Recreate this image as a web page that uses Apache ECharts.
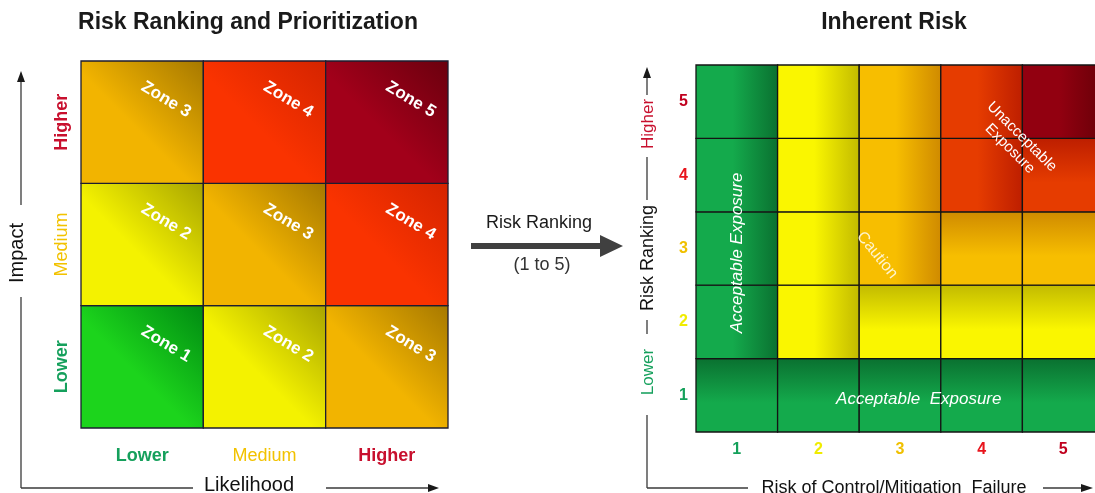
<!DOCTYPE html>
<html>
<head>
<meta charset="utf-8">
<style>
html, body { margin: 0; padding: 0; background: #fff; }
#chart { width: 1095px; height: 493px; }
</style>
<script src="https://cdn.jsdelivr.net/npm/echarts@6/dist/echarts.min.js"></script>
</head>
<body>
<div id="chart"></div>
<script>
// ---- Left matrix: likelihood (x) against impact (y) ----
const levelLabels = ['Lower', 'Medium', 'Higher'];
// [likelihood index, impact index, zone]
const zoneCells = [
  [0, 0, 1], [1, 0, 2], [2, 0, 3],
  [0, 1, 2], [1, 1, 3], [2, 1, 4],
  [0, 2, 3], [1, 2, 4], [2, 2, 5]
];

// ---- Right matrix: control/mitigation failure (x) against risk ranking (y) ----
const rankLabels = ['1', '2', '3', '4', '5'];
// exposure class per cell: A acceptable, L low caution, C caution, H high, U unacceptable
const exposureRows = [          // bottom row (rank 1) first
  ['A', 'A', 'A', 'A', 'A'],
  ['A', 'L', 'L', 'L', 'L'],
  ['A', 'L', 'C', 'C', 'C'],
  ['A', 'L', 'C', 'H', 'H'],
  ['A', 'L', 'C', 'H', 'U']
];
const exposureNotes = ['Acceptable Exposure', 'Acceptable  Exposure', 'Caution', 'Unacceptable\nExposure'];

const FONT = '"Liberation Sans", Arial, Helvetica, sans-serif';

const zoneShades = {
  1: ['#1cd41c', '#008a12'],
  2: ['#f4f200', '#a8a400'],
  3: ['#f2b400', '#a67800'],
  4: ['#fa3300', '#d42400'],
  5: ['#a2001a', '#6a000e']
};
const exposureShades = {
  A: ['#14aa4c', '#0a7030'],
  L: ['#faf600', '#c2ba00'],
  C: ['#f7be00', '#cf8a00'],
  H: ['#e63c00', '#bd1e00'],
  U: ['#920010', '#680008']
};

const exposureCells = [];
exposureRows.forEach(function (row, y) {
  row.forEach(function (cls, x) { exposureCells.push([x, y, cls]); });
});

function grad(x, y, x2, y2, light, dark, mid) {
  return {
    type: 'linear', x: x, y: y, x2: x2, y2: y2, global: false,
    colorStops: [
      { offset: 0, color: light },
      { offset: mid, color: light },
      { offset: 1, color: dark }
    ]
  };
}

const textShadow = { shadowColor: 'rgba(0,0,0,0.35)', shadowBlur: 2, shadowOffsetX: 1, shadowOffsetY: 1 };

function richFor(colors, weights, size) {
  const r = {};
  colors.forEach(function (c, i) {
    r['c' + i] = { color: c, fontWeight: weights[i], fontSize: size, fontFamily: FONT };
  });
  return r;
}
function idxFormatter(value, index) { return '{c' + index + '|' + value + '}'; }

const levelColors = ['#15a05c', '#f2c200', '#c8102e'];
const levelWeights = ['bold', 'normal', 'bold'];
const rankColors = ['#14a05a', '#f0ec00', '#f0c000', '#e8141c', '#c0001e'];
const rankWeights = ['bold', 'bold', 'bold', 'bold', 'bold'];

// placement of the free text on the right matrix, in cell units
const notePlacement = [
  { x: 0, y: 1.94, rot: 90, size: 17, italic: true },
  { x: 2.23, y: -0.06, rot: 0, size: 17, italic: true },
  { x: 1.72, y: 1.91, rot: -51, size: 16, italic: false },
  { x: 3.42, y: 3.44, rot: -45, size: 15, italic: false }
];

const axisInk = '#3a3a3a';
function seg(x1, y1, x2, y2) {
  return { type: 'line', shape: { x1: x1, y1: y1, x2: x2, y2: y2 }, style: { stroke: axisInk, lineWidth: 1.3 }, silent: true };
}
function tri(points) {
  return { type: 'polygon', shape: { points: points }, style: { fill: '#1a1a1a' }, silent: true };
}
function label(text, x, y, size, color, extra) {
  const el = {
    type: 'text', x: x, y: y, silent: true,
    style: { text: text, fill: color, fontSize: size, fontFamily: FONT, align: 'center', verticalAlign: 'middle' }
  };
  if (extra) {
    if (extra.rotation != null) el.rotation = extra.rotation;
    if (extra.fontWeight) el.style.fontWeight = extra.fontWeight;
    if (extra.rich) el.style.rich = extra.rich;
  }
  return el;
}

const chart = echarts.init(document.getElementById('chart'));

chart.setOption({
  animation: false,
  grid: [
    { left: 81, top: 61, width: 367, height: 367, containLabel: false, outerBoundsMode: 'none' },
    { left: 696, top: 65, width: 408, height: 367, containLabel: false, outerBoundsMode: 'none' }
  ],
  xAxis: [
    {
      gridIndex: 0, type: 'category', data: levelLabels,
      axisLine: { show: false }, axisTick: { show: false }, splitLine: { show: false },
      axisLabel: { margin: 19, formatter: idxFormatter, rich: richFor(levelColors, levelWeights, 18) }
    },
    {
      gridIndex: 1, type: 'category', data: rankLabels,
      axisLine: { show: false }, axisTick: { show: false }, splitLine: { show: false },
      axisLabel: { margin: 10, formatter: idxFormatter, rich: richFor(rankColors, rankWeights, 16) }
    }
  ],
  yAxis: [
    {
      gridIndex: 0, type: 'category', data: levelLabels,
      axisLine: { show: false }, axisTick: { show: false }, splitLine: { show: false },
      axisLabel: { rotate: 90, margin: 10, formatter: idxFormatter, rich: richFor(levelColors, levelWeights, 18) }
    },
    {
      gridIndex: 1, type: 'category', data: rankLabels,
      axisLine: { show: false }, axisTick: { show: false }, splitLine: { show: false },
      axisLabel: { margin: 8, formatter: idxFormatter, rich: richFor(rankColors, rankWeights, 16) }
    }
  ],
  series: [
    {
      // zone cells with their zone label
      type: 'custom', xAxisIndex: 0, yAxisIndex: 0,
      data: zoneCells, encode: { x: 0, y: 1 },
      renderItem: function (params, api) {
        const x = api.value(0), y = api.value(1), zone = api.value(2);
        const c = api.coord([x, y]);
        const s = api.size([1, 1]);
        const sh = zoneShades[zone];
        return {
          type: 'group',
          children: [
            {
              type: 'rect',
              shape: { x: c[0] - s[0] / 2, y: c[1] - s[1] / 2, width: s[0], height: s[1] },
              style: { fill: grad(0, 1, 1, 0, sh[0], sh[1], 0.45), stroke: '#1d1d30', lineWidth: 1.3 }
            },
            {
              type: 'text',
              x: c[0] + s[0] * 0.195, y: c[1] - s[1] * 0.185,
              rotation: -31 * Math.PI / 180,
              style: Object.assign({
                text: 'Zone ' + zone, fill: '#ffffff', fontSize: 17, fontWeight: 'bold',
                fontFamily: FONT, align: 'center', verticalAlign: 'middle'
              }, textShadow)
            }
          ]
        };
      }
    },
    {
      // exposure cells
      type: 'custom', xAxisIndex: 1, yAxisIndex: 1,
      data: exposureCells, encode: { x: 0, y: 1 },
      renderItem: function (params, api) {
        const x = api.value(0), y = api.value(1);
        const cls = exposureCells[params.dataIndex][2];
        const c = api.coord([x, y]);
        const s = api.size([1, 1]);
        const sh = exposureShades[cls];
        const across = x <= y && y >= 1;
        const fill = across ? grad(0, 0, 1, 0, sh[0], sh[1], 0.45)
                            : grad(0, 1, 0, 0, sh[0], sh[1], 0.4);
        return {
          type: 'rect',
          shape: { x: c[0] - s[0] / 2, y: c[1] - s[1] / 2, width: s[0], height: s[1] },
          style: { fill: fill, stroke: '#141414', lineWidth: 1.3 }
        };
      }
    },
    {
      // free text over the exposure regions
      type: 'custom', xAxisIndex: 1, yAxisIndex: 1,
      data: exposureNotes.map(function () { return [0, 0]; }), encode: { x: 0, y: 1 },
      z: 5,
      renderItem: function (params, api) {
        const p = notePlacement[params.dataIndex];
        const c0 = api.coord([0, 0]);
        const s = api.size([1, 1]);
        return {
          type: 'text',
          x: c0[0] + p.x * s[0], y: c0[1] - p.y * s[1],
          rotation: p.rot * Math.PI / 180,
          style: Object.assign({
            text: exposureNotes[params.dataIndex],
            fill: params.dataIndex === 2 ? 'rgba(255,248,225,0.92)' : '#ffffff',
            fontSize: p.size, fontStyle: p.italic ? 'italic' : 'normal',
            fontFamily: FONT, align: 'center', verticalAlign: 'middle', lineHeight: p.size + 2
          }, { shadowColor: 'rgba(0,0,0,0.25)', shadowBlur: 2, shadowOffsetX: 0.5, shadowOffsetY: 0.5 })
        };
      }
    }
  ],
  graphic: [
    label('Risk Ranking and Prioritization', 248, 23, 23, '#1a1a1a', { fontWeight: 'bold' }),
    label('Inherent Risk', 894, 23, 23, '#1a1a1a', { fontWeight: 'bold' }),

    // left outer axes
    seg(21, 488, 21, 297), seg(21, 205, 21, 81),
    tri([[21, 71], [17, 82], [25, 82]]),
    label('Impact', 17, 253, 20, '#111', { rotation: Math.PI / 2 }),
    seg(21, 488, 193, 488), seg(326, 488, 430, 488),
    tri([[439, 488], [428, 484], [428, 492]]),
    label('Likelihood', 249, 485, 20, '#111'),

    // connecting arrow
    {
      type: 'polygon', silent: true,
      shape: { points: [[471, 243], [600, 243], [600, 235], [623, 246], [600, 257], [600, 249], [471, 249]] },
      style: { fill: '#404040' }
    },
    label('Risk Ranking', 539, 223, 18, '#1a1a1a'),
    label('{g|(1} {d|to} {r|5}{g|)}', 542, 265, 18, '#333', {
      rich: {
        g: { color: '#666', fontSize: 18, fontFamily: FONT },
        d: { color: '#333', fontSize: 18, fontFamily: FONT },
        r: { color: '#c00020', fontSize: 18, fontFamily: FONT }
      }
    }),

    // right outer axes
    seg(647, 488, 647, 415), seg(647, 334, 647, 320), seg(647, 200, 647, 157), seg(647, 95, 647, 78),
    tri([[647, 67], [643, 78], [651, 78]]),
    label('Lower', 648, 372, 17, '#15a05c', { rotation: Math.PI / 2 }),
    label('Risk Ranking', 648, 258, 18, '#111', { rotation: Math.PI / 2 }),
    label('Higher', 648, 124, 17, '#c8102e', { rotation: Math.PI / 2 }),
    seg(647, 488, 748, 488), seg(1043, 488, 1082, 488),
    tri([[1093, 488], [1081, 484], [1081, 492]]),
    label('Risk of Control/Mitigation  Failure', 894, 488, 18, '#111')
  ]
});
</script>
</body>
</html>
